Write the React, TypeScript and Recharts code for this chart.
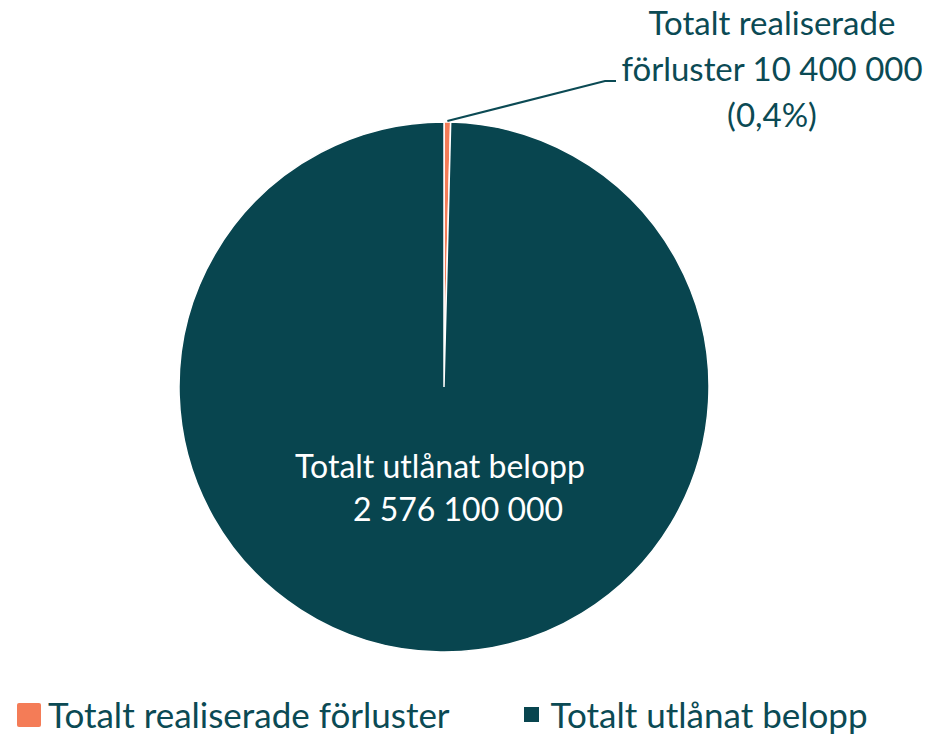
import React from "react";
import { PieChart, Pie, Cell, Legend } from "recharts";

// ─── Data ─────────────────────────────────────────────────────────────────────

const categories = ["Totalt realiserade förluster", "Totalt utlånat belopp"];
const amounts = [10400000, 2576100000];
const amountLabels = ["10 400 000", "2 576 100 000"];
const shareLabels = ["0,4%", ""];
const colors = ["#F47C57", "#08454F"];

const TEXT = "#0B4A54";
const FONT = "Lato, 'Open Sans', sans-serif";
const FS = 33;
const INNER_FS = 32;
const LEGEND_FS = 35;

const data = categories.map((name, i) => ({
  name,
  value: amounts[i],
  amount: amountLabels[i],
  share: shareLabels[i],
  fill: colors[i],
}));

const RAD = Math.PI / 180;

const renderLabel = (props: any) => {
  const { cx, cy, midAngle, outerRadius, index } = props;
  if (index === 0) {
    const sx = cx + (outerRadius + 1) * Math.cos(-midAngle * RAD);
    const sy = cy + (outerRadius + 1) * Math.sin(-midAngle * RAD);
    const ex = cx + 161;
    const ey = cy - 306;
    const tx = cx + 328;
    return (
      <g>
        <polyline
          points={`${sx},${sy} ${ex},${ey} ${ex + 11},${ey}`}
          fill="none"
          stroke={TEXT}
          strokeWidth={2}
        />
        <text x={tx} y={cy - 352} textAnchor="middle" fill={TEXT} fontSize={FS} fontFamily={FONT}>
          <tspan x={tx}>Totalt realiserade</tspan>
          <tspan x={tx} dy={46}>{`förluster ${data[0].amount}`}</tspan>
          <tspan x={tx} dy={46}>{`(${data[0].share})`}</tspan>
        </text>
      </g>
    );
  }
  return (
    <text x={cx - 4} y={cy + 91} textAnchor="middle" fill="#ffffff" fontSize={INNER_FS} fontFamily={FONT}>
      <tspan x={cx - 4}>{data[1].name}</tspan>
      <tspan x={cx + 14} dy={43}>{data[1].amount}</tspan>
    </text>
  );
};

const LegendContent = () => (
  <div
    style={{
      display: "flex",
      alignItems: "center",
      fontFamily: FONT,
      fontSize: LEGEND_FS,
      color: TEXT,
      paddingLeft: 17,
      lineHeight: 1,
    }}
  >
    {data.map((d, i) => (
      <div key={d.name} style={{ display: "flex", alignItems: "center", marginRight: i === 0 ? 74 : 0 }}>
        <span
          style={{
            display: "inline-block",
            width: i === 0 ? 24 : 15,
            height: i === 0 ? 24 : 15,
            borderRadius: i === 0 ? 2 : 0,
            background: d.fill,
            marginRight: i === 0 ? 7 : 12,
          }}
        />
        <span>{d.name}</span>
      </div>
    ))}
  </div>
);

export default function App() {
  return (
    <div style={{ position: "absolute", left: 0, top: 0, width: 930, height: 735, background: "#ffffff" }}>
      <PieChart width={930} height={735} margin={{ top: 0, right: 0, bottom: 0, left: 0 }}>
        <Pie
          data={data}
          dataKey="value"
          nameKey="name"
          cx={444}
          cy={387}
          outerRadius={265}
          startAngle={90}
          endAngle={-270}
          stroke="#ffffff"
          strokeWidth={1.5}
          label={renderLabel}
          labelLine={false}
          isAnimationActive={false}
        >
          {data.map((d) => (
            <Cell key={d.name} fill={d.fill} />
          ))}
        </Pie>
        <Legend
          verticalAlign="bottom"
          align="left"
          wrapperStyle={{ left: 0, bottom: 3, width: 930 }}
          content={<LegendContent />}
        />
      </PieChart>
    </div>
  );
}
